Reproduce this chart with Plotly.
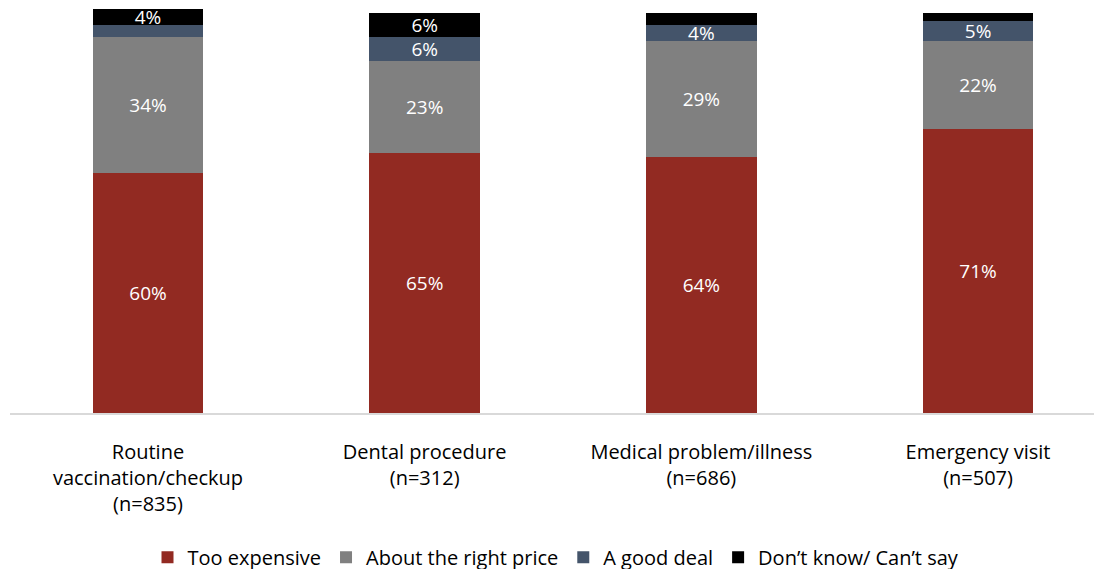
import plotly.graph_objects as go

categories = ["Routine<br>vaccination/checkup<br>(n=835)", "Dental procedure<br>(n=312)",
              "Medical problem/illness<br>(n=686)", "Emergency visit<br>(n=507)"]
too_expensive = [60, 65, 64, 71]
right_price = [34, 23, 29, 22]
good_deal = [3, 6, 4, 5]
dont_know = [4, 6, 3, 2]
good_deal_labels = ["", "6%", "4%", "5%"]
dont_know_labels = ["4%", "6%", "", ""]

series = [
    ("Too expensive", too_expensive, [f"{v}%" for v in too_expensive], "#922A22"),
    ("About the right price", right_price, [f"{v}%" for v in right_price], "#808080"),
    ("A good deal", good_deal, good_deal_labels, "#44546A"),
    ("Don’t know/ Can’t say", dont_know, dont_know_labels, "#000000"),
]

FONT = "Open Sans"
FS = 20
fig = go.Figure()
for name, vals, labels, color in series:
    fig.add_trace(go.Bar(
        x=categories, y=vals, name=name, text=labels,
        marker=dict(color=color, line=dict(width=0)),
        textposition="inside", insidetextanchor="middle", textangle=0,
        textfont=dict(color="white", size=19, family=FONT),
        hoverinfo="skip",
    ))

fig.update_layout(
    barmode="stack", bargap=0.6,
    width=1094, height=569,
    margin=dict(l=2, r=0, t=1, b=164, autoexpand=False),
    plot_bgcolor="white", paper_bgcolor="white",
    font=dict(family=FONT, size=FS, color="#000000"),
    uniformtext=dict(minsize=19, mode="show"),
    showlegend=True,
    legend=dict(orientation="h", x=0.5, xanchor="center", y=-0.357, yanchor="middle",
                font=dict(size=FS, family=FONT), traceorder="normal",
                itemwidth=30, tracegroupgap=0),
    xaxis=dict(range=[-0.4987, 3.448], showgrid=False, showline=True, linecolor="#D9D9D9",
               linewidth=2, ticks="", ticklabelstandoff=20, tickfont=dict(size=FS),
               automargin=False),
    yaxis=dict(range=[0, 101], visible=False, showgrid=False, automargin=False),
)

fig.write_html("out.html")
